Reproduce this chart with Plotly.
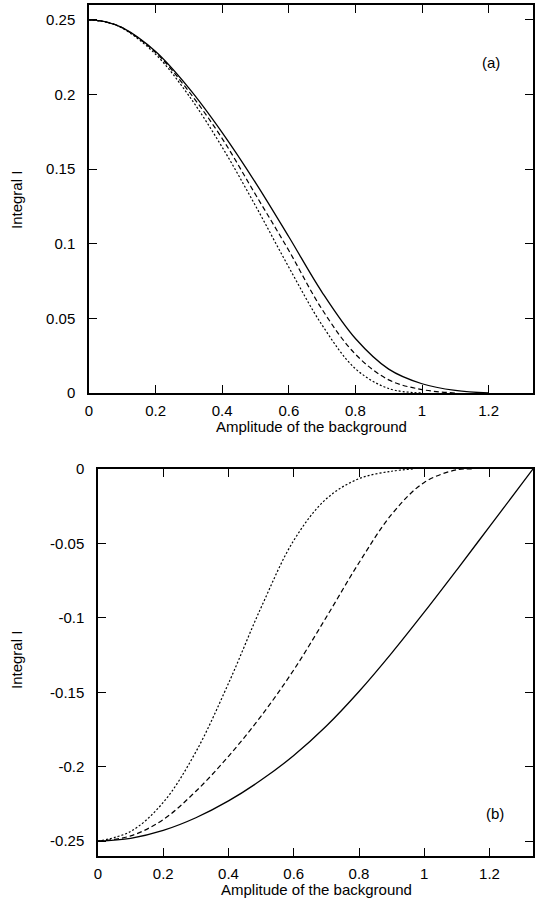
import plotly.graph_objects as go

# ---------------- data ----------------
# Panel (a)
xa_solid = [0, 0.05, 0.1, 0.2, 0.3, 0.4, 0.5, 0.6, 0.7, 0.8, 0.9, 1.0, 1.1, 1.2]
ya_solid = [0.25, 0.2487, 0.2448, 0.2288, 0.2043, 0.1745, 0.141, 0.1047, 0.0675, 0.0365, 0.016, 0.0062, 0.0017, 0.0]
xa_dash = [0, 0.05, 0.1, 0.2, 0.3, 0.4, 0.5, 0.6, 0.7, 0.8, 0.9, 1.0, 1.1]
ya_dash = [0.25, 0.2487, 0.2447, 0.2282, 0.202, 0.1705, 0.133, 0.0955, 0.056, 0.026, 0.0088, 0.0023, 0.0]
xa_dot = [0, 0.05, 0.1, 0.2, 0.3, 0.4, 0.5, 0.6, 0.7, 0.8, 0.9, 1.0]
ya_dot = [0.25, 0.2486, 0.2445, 0.227, 0.1992, 0.1647, 0.1255, 0.0843, 0.0455, 0.0163, 0.003, 0.0]

# Panel (b)
xb_solid = [0, 0.1, 0.2, 0.3, 0.4, 0.5, 0.6, 0.7, 0.8, 0.9, 1.0, 1.1, 1.2, 1.3, 1.3333]
yb_solid = [-0.25, -0.2481, -0.2428, -0.2343, -0.223, -0.209, -0.1925, -0.1727,
            -0.1495, -0.1237, -0.0962, -0.0677, -0.0387, -0.0097, 0.0]
xb_dash = [0, 0.1, 0.2, 0.3, 0.4, 0.5, 0.6, 0.7, 0.8, 0.9, 1.0, 1.1, 1.15]
yb_dash = [-0.25, -0.2465, -0.2355, -0.2165, -0.193, -0.166, -0.135, -0.0995,
           -0.063, -0.0305, -0.009, -0.0005, 0.0]
xb_dot = [0, 0.1, 0.2, 0.3, 0.4, 0.5, 0.6, 0.7, 0.8, 0.9, 0.965]
yb_dot = [-0.25, -0.2435, -0.224, -0.19, -0.144, -0.093, -0.048, -0.020, -0.0065, -0.0015, 0.0]

x_tickvals = [0, 0.2, 0.4, 0.6, 0.8, 1.0, 1.2]
x_ticktext = ["0", "0.2", "0.4", "0.6", "0.8", "1", "1.2"]
ya_tickvals = [0, 0.05, 0.1, 0.15, 0.2, 0.25]
ya_ticktext = ["0", "0.05", "0.1", "0.15", "0.2", "0.25"]
yb_tickvals = [-0.25, -0.2, -0.15, -0.1, -0.05, 0]
yb_ticktext = ["-0.25", "-0.2", "-0.15", "-0.1", "-0.05", "0"]

x_title = "Amplitude of the background"
y_title = "Integral I"

# ---------------- figure ----------------
W, H = 535, 898
FONT = "Liberation Sans, Arial, Helvetica, sans-serif"

def px_x(p):
    return p / W

def px_y(p):
    return 1 - p / H

fig = go.Figure()

styles = [("solid", 1.3), ("5px,3px", 1.2), ("2px,2px", 1.2)]

for (xs, ys), (dash, w) in zip([(xa_solid, ya_solid), (xa_dash, ya_dash), (xa_dot, ya_dot)], styles):
    fig.add_trace(go.Scatter(x=xs, y=ys, mode="lines", xaxis="x", yaxis="y",
                             line=dict(color="black", width=w, dash=dash, shape="spline", smoothing=1.0),
                             showlegend=False, hoverinfo="skip"))

for (xs, ys), (dash, w) in zip([(xb_solid, yb_solid), (xb_dash, yb_dash), (xb_dot, yb_dot)], styles):
    fig.add_trace(go.Scatter(x=xs, y=ys, mode="lines", xaxis="x2", yaxis="y2",
                             line=dict(color="black", width=w, dash=dash, shape="spline", smoothing=1.0),
                             showlegend=False, hoverinfo="skip"))

common_axis = dict(showline=True, linecolor="black", linewidth=1.5, mirror="ticks",
                   ticks="inside", ticklen=8, tickwidth=1.2, tickcolor="black",
                   showgrid=False, zeroline=False, automargin=False,
                   tickfont=dict(family=FONT, size=15, color="black"))

fig.update_layout(
    template="none",
    width=W, height=H,
    margin=dict(l=0, r=0, t=0, b=0, pad=0, autoexpand=False),
    paper_bgcolor="white", plot_bgcolor="white",
    font=dict(family=FONT, size=15, color="black"),
    xaxis=dict(domain=[px_x(89), px_x(533)], range=[0, 4 / 3], anchor="y",
               tickvals=x_tickvals, ticktext=x_ticktext, ticklabelstandoff=3, **common_axis),
    yaxis=dict(domain=[px_y(393), px_y(5)], range=[0, 0.26], anchor="x",
               tickvals=ya_tickvals, ticktext=ya_ticktext, ticklabelstandoff=9, **common_axis),
    xaxis2=dict(domain=[px_x(98), px_x(533)], range=[0, 4 / 3], anchor="y2",
                tickvals=x_tickvals, ticktext=x_ticktext, ticklabelstandoff=3, **common_axis),
    yaxis2=dict(domain=[px_y(856), px_y(469)], range=[-0.26, 0], anchor="x2",
                tickvals=yb_tickvals, ticktext=yb_ticktext, ticklabelstandoff=9, **common_axis),
)

ann_font = dict(family=FONT, size=15, color="black")
annotations = [
    dict(text=x_title, x=px_x(311), y=px_y(426), xref="paper", yref="paper",
         xanchor="center", yanchor="middle", showarrow=False, font=ann_font),
    dict(text=x_title, x=px_x(316), y=px_y(889), xref="paper", yref="paper",
         xanchor="center", yanchor="middle", showarrow=False, font=ann_font),
    dict(text=y_title, x=px_x(16), y=px_y(200), xref="paper", yref="paper", textangle=-90,
         xanchor="center", yanchor="middle", showarrow=False, font=ann_font),
    dict(text=y_title, x=px_x(16), y=px_y(660), xref="paper", yref="paper", textangle=-90,
         xanchor="center", yanchor="middle", showarrow=False, font=ann_font),
    dict(text="(a)", x=px_x(491), y=px_y(63), xref="paper", yref="paper",
         xanchor="center", yanchor="middle", showarrow=False, font=dict(family=FONT, size=15, color="black")),
    dict(text="(b)", x=px_x(495), y=px_y(813), xref="paper", yref="paper",
         xanchor="center", yanchor="middle", showarrow=False, font=dict(family=FONT, size=15, color="black")),
]
fig.update_layout(annotations=annotations)

fig.write_html("out.html", config={"displayModeBar": False},
               post_script="document.body.style.margin='0';document.body.style.overflow='hidden';")
